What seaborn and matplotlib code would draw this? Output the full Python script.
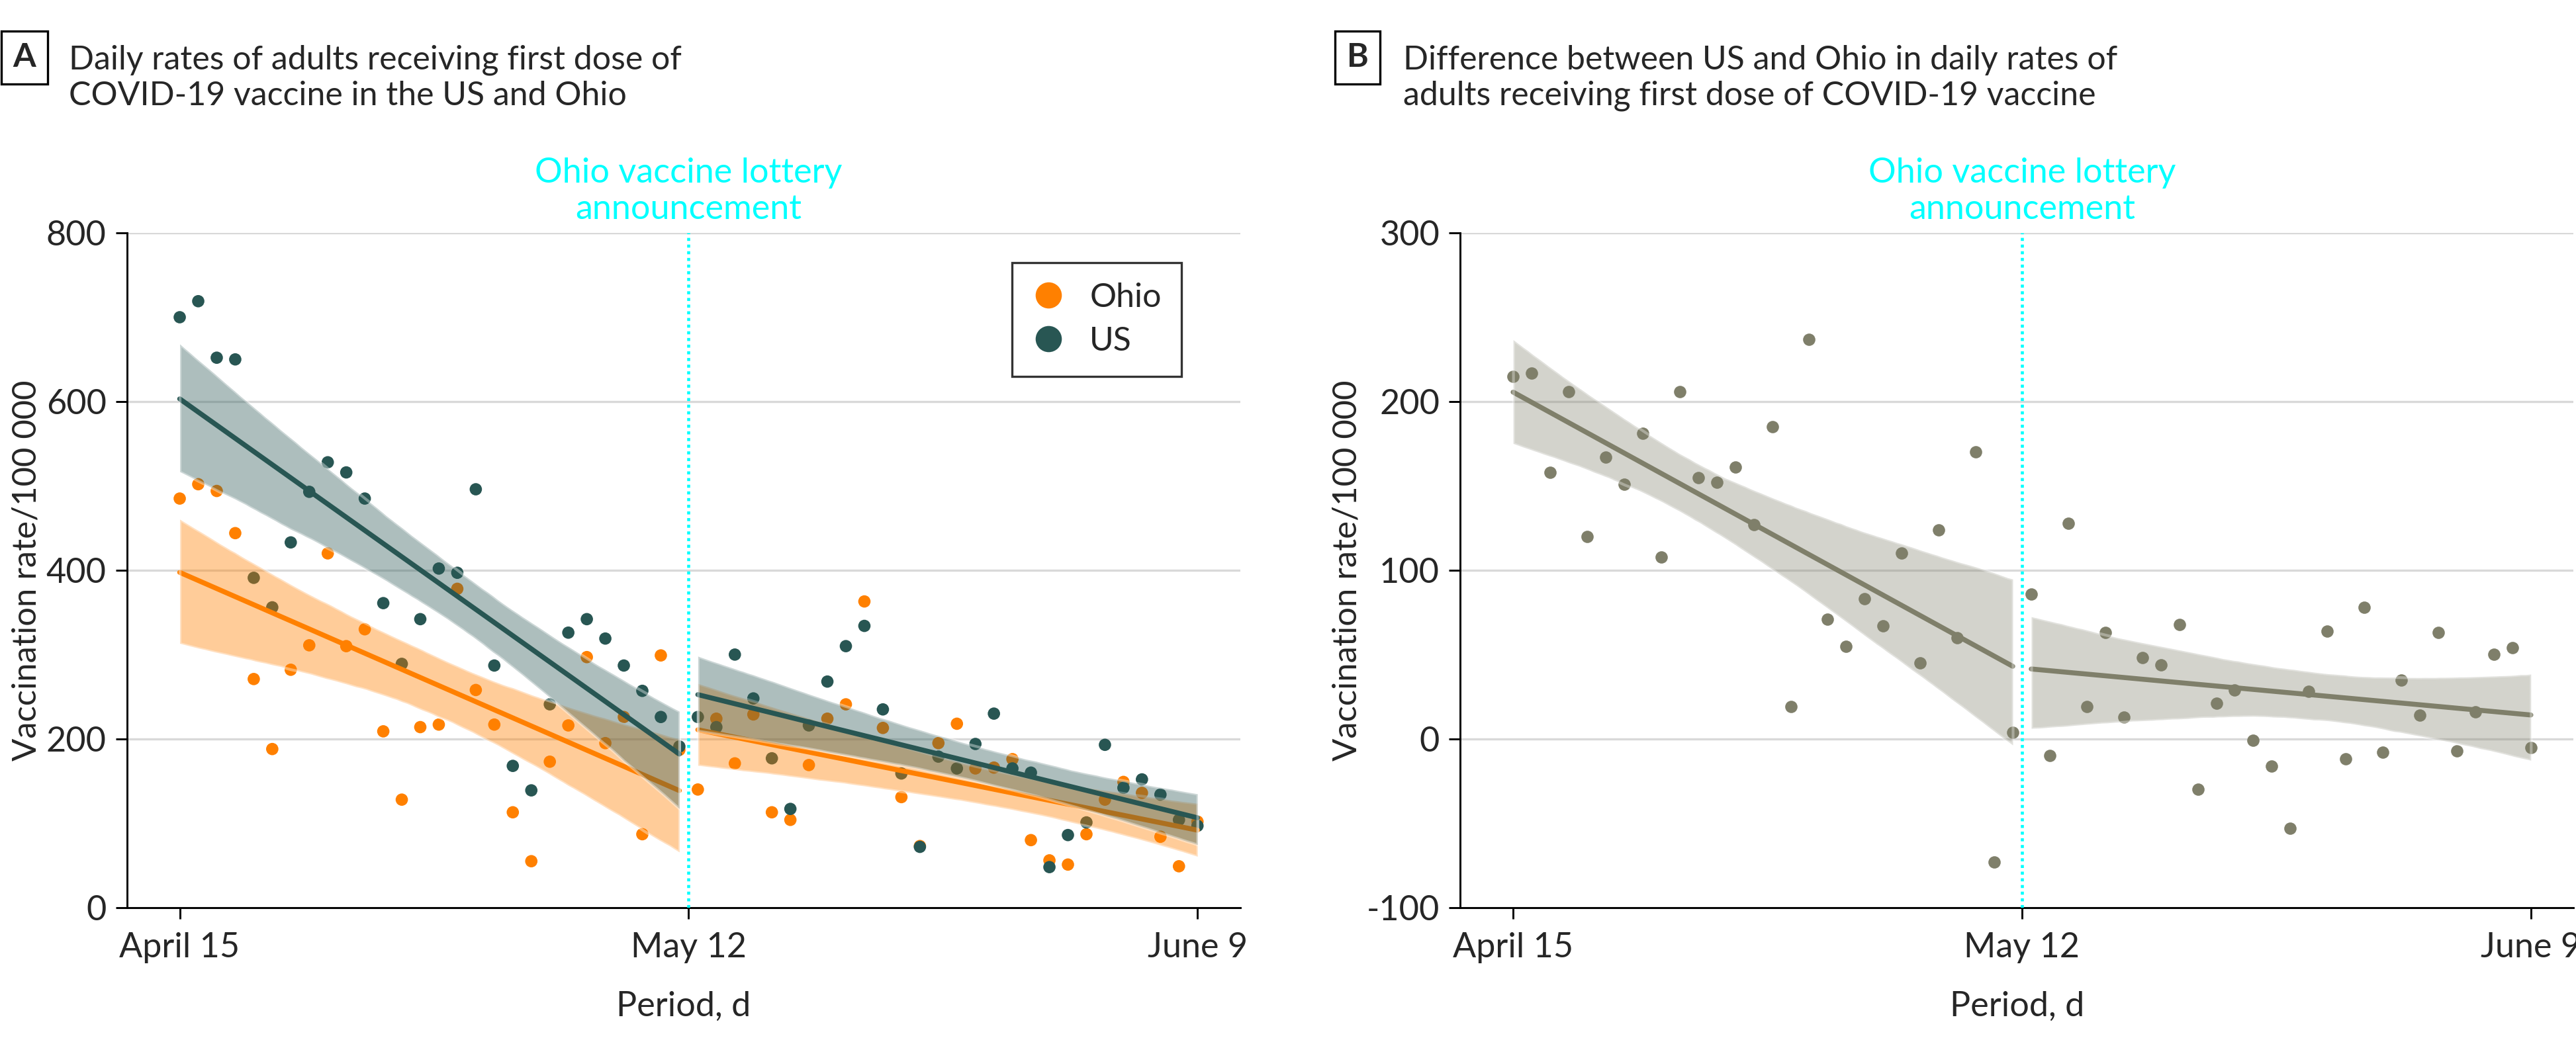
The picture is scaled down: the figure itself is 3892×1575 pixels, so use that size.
import numpy as np
import pandas as pd
import matplotlib
matplotlib.use("Agg")
import matplotlib.pyplot as plt
from matplotlib.lines import Line2D
import seaborn as sns

# daily first-dose rates per 100 000 adults, day 0 = April 15, day 55 = June 9
day = list(range(56))

ohio = [485, 502, 494, 444, 271, 188, 282, 311, 420, 310, 330, 209, 128, 214,
        217, 378, 258, 217, 113, 55, 173, 216, 297, 195, 226, 87, 299, 187,
        140, 224, 171, 229, 113, 104, 169, 224, 241, 363, 213, 131, 73, 195,
        218, 165, 166, 176, 80, 56, 51, 87, 128, 149, 136, 84, 49, 102]

us = [700, 719, 652, 650, 391, 356, 433, 493, 528, 516, 485, 361, 289, 342,
      402, 397, 496, 287, 168, 139, 241, 326, 342, 319, 287, 257, 226, 191,
      226, 214, 300, 248, 177, 117, 216, 268, 310, 334, 235, 159, 72, 179,
      165, 194, 230, 165, 160, 48, 86, 101, 193, 142, 152, 134, 104, 97]

# US minus Ohio
diff = [215, 217, 158, 206, 120, 167, 151, 181, 108, 206, 155, 152, 161, 127,
        185, 19, 237, 71, 55, 83, 67, 110, 45, 124, 60, 170, -73, 4,
        86, -10, 128, 19, 63, 13, 48, 44, 68, -30, 21, 29, -1, -16,
        -53, 28, 64, -12, 78, -8, 35, 14, 63, -7, 16, 50, 54, -5]

lottery_day = 27.5
tick_days = [0, 27.5, 55]
tick_labels = ["April 15", "May 12", "June 9"]

ohio_color = "#FF8000"
us_color = "#285653"
diff_color = "#7F7F6A"
cyan = "#00FFFF"

#%%

rates = pd.DataFrame({"day": day * 2,
                      "rate": ohio + us,
                      "region": ["Ohio"] * len(ohio) + ["US"] * len(us)})
rates["period"] = np.where(rates["day"] < lottery_day, "pre", "post")

gap = pd.DataFrame({"day": day, "diff": diff})
gap["period"] = np.where(gap["day"] < lottery_day, "pre", "post")

sns.set_style("ticks")
plt.rcParams["font.family"] = ["Lato", "DejaVu Sans"]
plt.rcParams["axes.unicode_minus"] = False


def fit_lines(ax, data, y, color, alpha):
    # separate linear fit before and after the announcement
    for per in ["pre", "post"]:
        sub = data[data["period"] == per]
        sns.regplot(data=sub, x="day", y=y, ax=ax, scatter=False, ci=95,
                    n_boot=5000, seed=3, color=color, line_kws={"lw": 1.8})
        band = ax.collections[-1]
        band.set_alpha(alpha)
        band.set_zorder(2)


def style_axes(ax, ylim, yticks):
    ax.axvline(lottery_day, color=cyan, ls=(0, (1, 1.2)), lw=1.1, zorder=3)
    ax.text(lottery_day, 1.012, "Ohio vaccine lottery\nannouncement",
            transform=ax.get_xaxis_transform(), ha="center", va="bottom",
            color=cyan, fontsize=12.5, linespacing=1.2)
    ax.set_xlim(-2.85, 57.3)
    ax.set_ylim(*ylim)
    ax.set_yticks(yticks)
    ax.set_yticklabels([str(t) for t in yticks])
    ax.set_xticks(tick_days)
    ax.set_xticklabels(tick_labels)
    ax.yaxis.grid(True, color="#d9d9d9", lw=0.8)
    ax.set_axisbelow(True)
    ax.tick_params(labelsize=12.5, length=4, width=0.7, color="black")
    ax.tick_params(axis="x", pad=5)
    ax.set_xlabel("Period, d", fontsize=12.5, labelpad=10)
    ax.set_ylabel("Vaccination rate/100 000", fontsize=12.2, labelpad=1.5)
    sns.despine(ax=ax)
    for s in ["left", "bottom"]:
        ax.spines[s].set_linewidth(0.7)
        ax.spines[s].set_color("black")


fig, (ax1, ax2) = plt.subplots(1, 2, figsize=(3892 / 300, 1575 / 300), dpi=300)
fig.subplots_adjust(left=0.0493, right=0.999, bottom=0.129, top=0.7765,
                    wspace=0.198)

#%%

# panel A: Ohio and US rates

sns.scatterplot(data=rates, x="day", y="rate", hue="region", ax=ax1,
                palette={"Ohio": ohio_color, "US": us_color}, s=20,
                linewidth=0, legend=False, zorder=1)
fit_lines(ax1, rates[rates["region"] == "Ohio"], "rate", ohio_color, 0.4)
fit_lines(ax1, rates[rates["region"] == "US"], "rate", us_color, 0.38)
style_axes(ax1, (0, 800), [0, 200, 400, 600, 800])

handles = [Line2D([], [], ls="", marker="o", ms=9.5, mew=0, color=ohio_color),
           Line2D([], [], ls="", marker="o", ms=9.5, mew=0, color=us_color)]
leg = ax1.legend(handles, ["Ohio", "US"], loc="upper left",
                 bbox_to_anchor=(0.795, 0.956), borderaxespad=0,
                 fontsize=12, frameon=True, fancybox=False,
                 edgecolor="black", handlelength=1.0, handletextpad=0.75,
                 borderpad=0.6, labelspacing=0.4)
leg.get_frame().set_linewidth(0.8)

#%%

# panel B: difference between US and Ohio

sns.scatterplot(data=gap, x="day", y="diff", ax=ax2, color=diff_color, s=20,
                linewidth=0, zorder=1)
fit_lines(ax2, gap, "diff", diff_color, 0.34)
style_axes(ax2, (-100, 300), [-100, 0, 100, 200, 300])

#%%

# panel letters and titles

for x_box, x_txt, letter, title in [
        (0.0095, 0.0267, "A",
         "Daily rates of adults receiving first dose of\nCOVID-19 vaccine in the US and Ohio"),
        (0.527, 0.5447, "B",
         "Difference between US and Ohio in daily rates of\nadults receiving first dose of COVID-19 vaccine")]:
    fig.text(x_box, 0.9448, letter, ha="center", va="center", fontsize=12,
             fontweight="bold",
             bbox=dict(boxstyle="square,pad=0.35", fc="white", ec="black", lw=0.8))
    fig.text(x_txt, 0.957, title, ha="left", va="top", fontsize=12,
             linespacing=1.2)

fig.savefig("out.png", dpi=300)
